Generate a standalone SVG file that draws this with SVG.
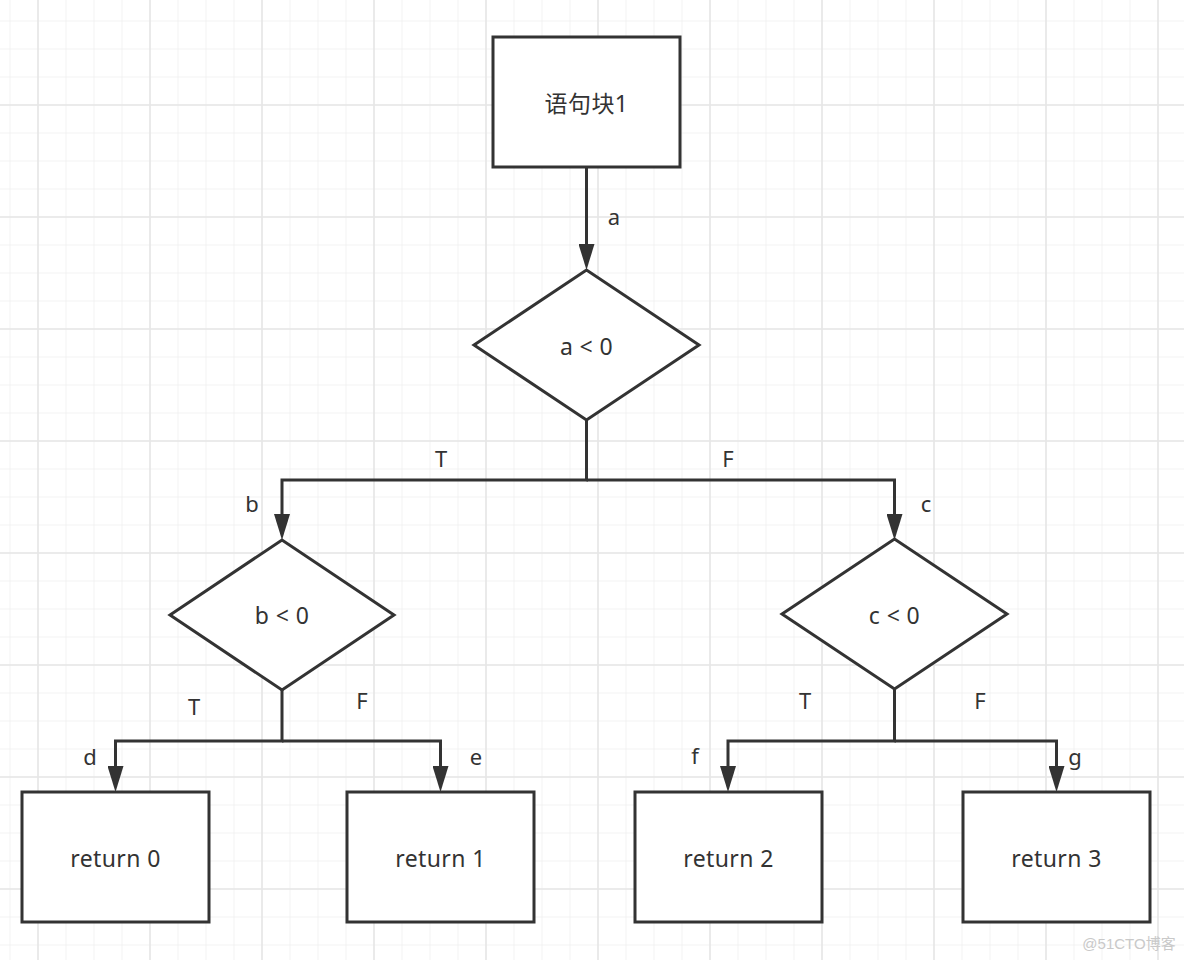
<svg xmlns="http://www.w3.org/2000/svg" width="1184" height="960" viewBox="0 0 1184 960">
<style>
.node{fill:#fff;stroke:#333;stroke-width:3}
.conn{fill:none;stroke:#333;stroke-width:3}
.t{font-family:"Noto Sans","Liberation Sans","Noto Sans CJK SC",sans-serif;font-size:22px;fill:#333;text-anchor:middle;dominant-baseline:central}
.n{font-size:23px;letter-spacing:0.4px}
.wm{font-family:"Liberation Sans","Noto Sans CJK SC",sans-serif;font-size:15px;fill:#c9c9c9;text-anchor:middle;dominant-baseline:central}
</style>
<defs>
<pattern id="minor" patternUnits="userSpaceOnUse" x="9.5" y="20.5" width="28" height="28">
<path d="M0.5,0 V28 M0,0.5 H28" stroke="#f2f2f2" stroke-width="1" fill="none"/>
</pattern>
<pattern id="major" patternUnits="userSpaceOnUse" x="37" y="104" width="112" height="112">
<path d="M1,0 V112 M0,1 H112" stroke="#e6e6e6" stroke-width="1.6" fill="none"/>
</pattern>
<marker id="arrow" markerUnits="userSpaceOnUse" markerWidth="26" markerHeight="16" viewBox="0 0 26 16" refX="0" refY="8" orient="auto">
<path d="M0,0 L26,8 L0,16 Z" fill="#333"/>
</marker>
</defs>
<rect width="1184" height="960" fill="#fff"/>
<rect width="1184" height="960" fill="url(#minor)"/>
<rect width="1184" height="960" fill="url(#major)"/>

<g id="connectors">
<path class="conn" d="M586.5,167 V244" marker-end="url(#arrow)"/>
<path class="conn" d="M586.5,420 V480 H282 V514" marker-end="url(#arrow)"/>
<path class="conn" d="M586.5,480 H894.5 V514" marker-end="url(#arrow)"/>
<path class="conn" d="M282,690 V741 H115.5 V766" marker-end="url(#arrow)"/>
<path class="conn" d="M282,741 H440.5 V766" marker-end="url(#arrow)"/>
<path class="conn" d="M894.5,689 V741 H728 V766" marker-end="url(#arrow)"/>
<path class="conn" d="M894.5,741 H1056.5 V766" marker-end="url(#arrow)"/>
<text class="t" x="614" y="216">a</text>
<text class="t" x="441" y="458">T</text>
<text class="t" x="728" y="458">F</text>
<text class="t" x="252" y="503">b</text>
<text class="t" x="926" y="503">c</text>
<text class="t" x="194" y="706">T</text>
<text class="t" x="362" y="700">F</text>
<text class="t" x="90" y="756">d</text>
<text class="t" x="476" y="756">e</text>
<text class="t" x="805" y="700">T</text>
<text class="t" x="980" y="700">F</text>
<text class="t" x="695" y="755">f</text>
<text class="t" x="1075" y="756">g</text>
</g>

<g id="block1">
<rect class="node" x="493" y="37" width="187" height="130"/>
<text class="t n" x="586.5" y="103">语句块1</text>
</g>
<g id="cond_a">
<polygon class="node" points="474,345 586.5,270 699,345 586.5,420"/>
<text class="t n" x="586.5" y="346">a &lt; 0</text>
</g>
<g id="cond_b">
<polygon class="node" points="170,615 282,540 394,615 282,690"/>
<text class="t n" x="282" y="615">b &lt; 0</text>
</g>
<g id="cond_c">
<polygon class="node" points="782,614 894.5,539 1007,614 894.5,689"/>
<text class="t n" x="894.5" y="615">c &lt; 0</text>
</g>
<g id="ret0">
<rect class="node" x="22" y="792" width="187" height="130"/>
<text class="t n" x="115.5" y="858">return 0</text>
</g>
<g id="ret1">
<rect class="node" x="347" y="792" width="187" height="130"/>
<text class="t n" x="440.5" y="858">return 1</text>
</g>
<g id="ret2">
<rect class="node" x="635" y="792" width="187" height="130"/>
<text class="t n" x="728.5" y="858">return 2</text>
</g>
<g id="ret3">
<rect class="node" x="963" y="792" width="187" height="130"/>
<text class="t n" x="1056.5" y="858">return 3</text>
</g>
<text class="wm" x="1129" y="943">@51CTO博客</text>
</svg>
